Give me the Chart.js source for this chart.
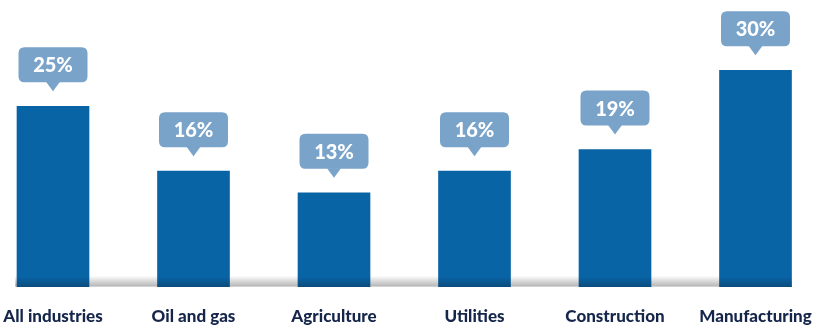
<!DOCTYPE html>
<html>
<head>
<meta charset="utf-8">
<script src="https://cdn.jsdelivr.net/npm/chart.js@4.4.0/dist/chart.umd.min.js"></script>
<style>
html,body{margin:0;padding:0;background:#fff;}
#wrap{width:813px;height:327px;position:relative;}
</style>
</head>
<body>
<div id="wrap"><canvas id="c" width="813" height="327"></canvas></div>
<script>
const categories = ["All industries", "Oil and gas", "Agriculture", "Utilities", "Construction", "Manufacturing"];
const values = [25, 16, 13, 16, 19, 30];
const valueLabels = ["25%", "16%", "13%", "16%", "19%", "30%"];

const BAR = "#0964a5";
const BAR_DARK = "#0b4d7f";
const BUBBLE = "#79a3c9";
const LABEL = "#15264a";

function roundRect(ctx, x, y, w, h, r) {
  ctx.beginPath();
  ctx.moveTo(x + r, y);
  ctx.lineTo(x + w - r, y);
  ctx.quadraticCurveTo(x + w, y, x + w, y + r);
  ctx.lineTo(x + w, y + h - r);
  ctx.quadraticCurveTo(x + w, y + h, x + w - r, y + h);
  ctx.lineTo(x + r, y + h);
  ctx.quadraticCurveTo(x, y + h, x, y + h - r);
  ctx.lineTo(x, y + r);
  ctx.quadraticCurveTo(x, y, x + r, y);
  ctx.closePath();
}

const decor = {
  id: 'decor',
  beforeDatasetsDraw(chart) {
    const ctx = chart.ctx;
    const y0 = chart.scales.y.getPixelForValue(0);
    const g = ctx.createLinearGradient(0, y0 - 11, 0, y0);
    g.addColorStop(0, "rgba(255,255,255,1)");
    g.addColorStop(1, "#b4b4b4");
    ctx.save();
    ctx.fillStyle = g;
    ctx.fillRect(15, y0 - 11, 777, 11);
    ctx.restore();
  },
  afterDatasetsDraw(chart) {
    const ctx = chart.ctx;
    const meta = chart.getDatasetMeta(0);
    ctx.save();
    meta.data.forEach((bar, i) => {
      const cx = bar.x, top = bar.y;
      const w = 69, h = 35;
      const by = top - 59;
      ctx.fillStyle = BUBBLE;
      roundRect(ctx, cx - w / 2, by, w, h, 6);
      ctx.fill();
      ctx.beginPath();
      ctx.moveTo(cx - 7, by + h - 0.5);
      ctx.lineTo(cx + 7, by + h - 0.5);
      ctx.lineTo(cx, by + h + 9);
      ctx.closePath();
      ctx.fill();
      ctx.fillStyle = "#ffffff";
      ctx.font = "900 20px Lato";
      ctx.textAlign = "center";
      ctx.textBaseline = "middle";
      ctx.fillText(valueLabels[i], cx, by + h / 2 + 1);
    });
    ctx.restore();
  }
};

new Chart(document.getElementById('c'), {
  type: 'bar',
  data: {
    labels: categories,
    datasets: [{
      data: values,
      clip: false,
      barThickness: 72,
      backgroundColor(ctx) {
        const chart = ctx.chart;
        const ca = chart.chartArea;
        if (!ca) return BAR;
        const y0 = chart.scales.y.getPixelForValue(0);
        const g = chart.ctx.createLinearGradient(0, y0 - 10, 0, y0);
        g.addColorStop(0, BAR);
        g.addColorStop(1, BAR_DARK);
        return g;
      },
      borderWidth: 0
    }]
  },
  options: {
    responsive: false,
    animation: false,
    devicePixelRatio: 1,
    layout: { padding: { left: 53, right: 57.5, top: 12.5, bottom: -19 } },
    plugins: { legend: { display: false }, tooltip: { enabled: false } },
    scales: {
      x: {
        offset: false,
        afterFit(scale) { scale.paddingLeft = 0; scale.paddingRight = 0; },
        grid: { display: false, drawTicks: false },
        border: { display: false },
        ticks: {
          color: LABEL,
          font: { family: "Lato", weight: "900", size: 17 },
          padding: 19.5,
          maxRotation: 0,
          autoSkip: false
        }
      },
      y: {
        display: false,
        min: 0,
        max: 38
      }
    }
  },
  plugins: [decor]
});
</script>
</body>
</html>
